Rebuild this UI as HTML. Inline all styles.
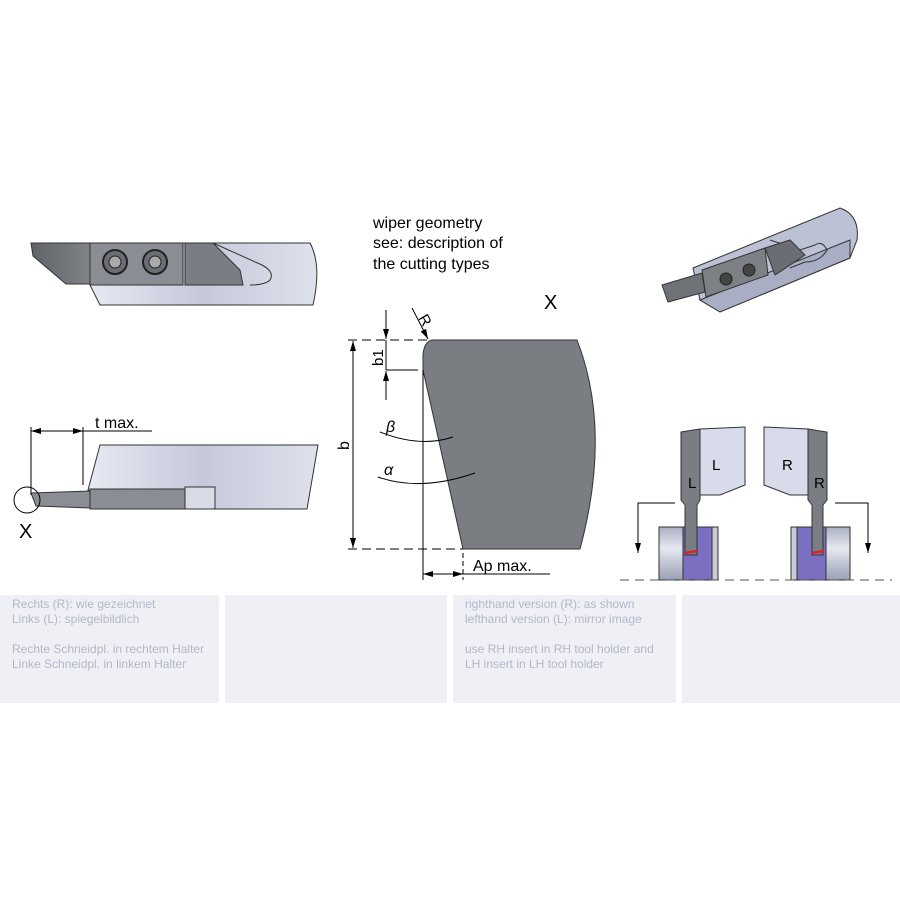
<!DOCTYPE html>
<html><head><meta charset="utf-8"><style>
body{margin:0;background:#fff;width:900px;height:900px;overflow:hidden;font-family:"Liberation Sans",sans-serif}
.p{position:absolute;top:595px;height:108px;background:#eef0f6;color:#b3b7c8;font-size:12px;line-height:15px;padding:2px 12px;box-sizing:border-box}
</style></head><body>
<svg width="900" height="900" style="position:absolute;left:0;top:0" font-family="Liberation Sans, sans-serif">
<defs>
<linearGradient id="hg" x1="0" x2="1"><stop offset="0" stop-color="#e6e9f2"/><stop offset="0.5" stop-color="#c5c9da"/><stop offset="1" stop-color="#dfe2ec"/></linearGradient>
<linearGradient id="dg" x1="0" x2="1"><stop offset="0" stop-color="#5f6266"/><stop offset="1" stop-color="#808488"/></linearGradient>
<linearGradient id="wg" x1="0" y1="0" x2="0" y2="1"><stop offset="0" stop-color="#aab0c4"/><stop offset="0.4" stop-color="#e6e8f0"/><stop offset="1" stop-color="#9aa0b6"/></linearGradient>
<marker id="a" markerWidth="10" markerHeight="6" refX="10" refY="3" orient="auto" markerUnits="userSpaceOnUse"><path d="M0,0L10,3L0,6z" fill="#000"/></marker>
</defs>
<!-- top-left tool -->
<path d="M90,243 L310,243 Q322,265 313,305 L100,305 L90,285 Z" fill="url(#hg)" stroke="#333" stroke-width="1"/>
<path d="M213,243 L262,265 Q275,272 270,280 Q265,285 250,285" fill="none" stroke="#333"/>
<path d="M31,243 L90,243 L90,284 L66,284 L33,256 Z" fill="url(#dg)" stroke="#333"/>
<rect x="90" y="243" width="93" height="42" fill="#8a8e94" stroke="#333"/>
<circle cx="115" cy="262" r="12" fill="#6a6e74" stroke="#222" stroke-width="2"/><circle cx="115" cy="262" r="6" fill="#aaa" stroke="#222"/>
<circle cx="155" cy="262" r="12" fill="#6a6e74" stroke="#222" stroke-width="2"/><circle cx="155" cy="262" r="6" fill="#aaa" stroke="#222"/>
<path d="M185,243 L213,243 L240,270 L243,285 L185,285 Z" fill="#7a7e84" stroke="#333"/>
<!-- bottom-left tool -->
<path d="M100,445 L318,445 L307,509 L185,509 L88,490 Z" fill="url(#hg)" stroke="#333"/>
<path d="M90,489 L185,489 L185,509 L90,509 Z" fill="#8a8e94" stroke="#333"/>
<path d="M31,493 L90,491 L90,508 L36,506 Z" fill="#8a8e94" stroke="#333"/>
<rect x="185" y="487" width="30" height="22" fill="#d8dbe6" stroke="#333"/>
<line x1="31" y1="427" x2="31" y2="495" stroke="#000"/><line x1="83" y1="427" x2="83" y2="485" stroke="#000"/>
<line x1="40" y1="431" x2="31" y2="431" stroke="#000" marker-end="url(#a)"/><line x1="31" y1="431" x2="83" y2="431" stroke="#000" marker-end="url(#a)"/>
<line x1="83" y1="431" x2="152" y2="431" stroke="#000"/>
<text x="95" y="428" font-size="16">t max.</text>
<circle cx="27" cy="500" r="13" fill="none" stroke="#000"/>
<text x="19" y="538" font-size="20">X</text>
<!-- center -->
<text x="373" y="228" font-size="16">wiper geometry</text>
<text x="373" y="248" font-size="16">see: description of</text>
<text x="373" y="269" font-size="16">the cutting types</text>
<text x="544" y="309" font-size="20">X</text>
<path d="M432,340 L577,340 Q612,430 580,549 L463,549 L423,370 L423,355 Q424,342 432,340 Z" fill="#7a7e83" stroke="#333"/>
<line x1="348" y1="340" x2="428" y2="340" stroke="#000" stroke-dasharray="9,5"/>
<line x1="348" y1="549" x2="463" y2="549" stroke="#000" stroke-dasharray="9,5"/>
<line x1="353" y1="440" x2="353" y2="341" stroke="#000" marker-end="url(#a)"/><line x1="353" y1="440" x2="353" y2="548" stroke="#000" marker-end="url(#a)"/>
<text transform="translate(349,450) rotate(-90)" font-size="16">b</text>
<line x1="386" y1="310" x2="386" y2="339" stroke="#000" marker-end="url(#a)"/>
<line x1="386" y1="400" x2="386" y2="371" stroke="#000" marker-end="url(#a)"/>
<line x1="386" y1="340" x2="386" y2="370" stroke="#000"/>
<line x1="386" y1="370" x2="418" y2="370" stroke="#000"/>
<text transform="translate(383,366) rotate(-90)" font-size="15">b1</text>
<line x1="412" y1="308" x2="428" y2="339" stroke="#000" marker-end="url(#a)"/>
<text transform="translate(418,318) rotate(60)" font-size="15">R</text>
<line x1="423" y1="370" x2="423" y2="580" stroke="#000"/>
<path d="M380,432 Q420,448 453,437" fill="none" stroke="#000"/>
<text x="386" y="432" font-size="16" font-style="italic">β</text>
<path d="M378,477 Q420,492 475,473" fill="none" stroke="#000"/>
<text x="384" y="475" font-size="16" font-style="italic">α</text>
<line x1="463" y1="553" x2="463" y2="580" stroke="#000" stroke-dasharray="5,3"/>
<line x1="440" y1="574" x2="423" y2="574" stroke="#000" marker-end="url(#a)"/><line x1="440" y1="574" x2="463" y2="574" stroke="#000" marker-end="url(#a)"/>
<line x1="463" y1="574" x2="550" y2="574" stroke="#000"/>
<text x="473" y="571" font-size="16">Ap max.</text>
<!-- top-right 3D tool -->
<path d="M693,268 L840,208 Q860,215 857,240 L850,258 L720,312 L700,300 Z" fill="#bcc1d4" stroke="#333"/>
<path d="M700,300 L850,240 L850,258 L720,312 Z" fill="#a9aec4" stroke="#333"/>
<path d="M770,240 L800,250 L815,245 Q822,240 827,250 Q820,262 805,262 L790,268" fill="none" stroke="#333"/>
<path d="M662,285 L702,273 L705,292 L668,302 Z" fill="#6f7378" stroke="#333"/>
<path d="M702,270 L765,248 L768,275 L706,297 Z" fill="#7d8186" stroke="#333"/>
<path d="M765,248 L790,240 L805,255 L775,275 Z" fill="#6a6e74" stroke="#333"/>
<circle cx="726" cy="279" r="6" fill="#444" stroke="#222"/><circle cx="749" cy="270" r="6" fill="#444" stroke="#222"/>
<!-- bottom-right L/R -->
<rect x="659" y="527" width="59" height="53" fill="url(#wg)" stroke="#333"/>
<rect x="683" y="527" width="29" height="53" fill="#7a6fc0" stroke="#333"/>
<rect x="712" y="527" width="6" height="53" fill="#c8cbd8" stroke="#333"/>
<path d="M681,432 L700,429 L700,500 L697,505 L697,555 L685,555 L685,505 L681,500 Z" fill="#7a7e83" stroke="#333"/>
<path d="M700,429 L745,427 L745,485 L720,495 L700,495 Z" fill="#d8dbea" stroke="#333"/>
<text x="688" y="488" font-size="15">L</text><text x="712" y="470" font-size="15">L</text>
<path d="M685,553 L697,551" stroke="#e0202a" stroke-width="2.5"/>
<rect x="791" y="527" width="59" height="53" fill="url(#wg)" stroke="#333"/>
<rect x="791" y="527" width="6" height="53" fill="#c8cbd8" stroke="#333"/>
<rect x="797" y="527" width="29" height="53" fill="#7a6fc0" stroke="#333"/>
<path d="M808,429 L827,432 L827,500 L823,505 L823,555 L812,555 L812,505 L808,500 Z" fill="#7a7e83" stroke="#333"/>
<path d="M764,427 L808,429 L808,495 L790,495 L764,485 Z" fill="#d8dbea" stroke="#333"/>
<text x="782" y="470" font-size="15">R</text><text x="814" y="488" font-size="15">R</text>
<path d="M812,553 L824,551" stroke="#e0202a" stroke-width="2.5"/>
<path d="M675,503 L638,503 L638,553" fill="none" stroke="#000" marker-end="url(#a)"/>
<path d="M835,503 L868,503 L868,553" fill="none" stroke="#000" marker-end="url(#a)"/>
<line x1="620" y1="580" x2="892" y2="580" stroke="#555" stroke-dasharray="9,6"/>
</svg>
<div class="p" style="left:0;width:219px">Rechts (R): wie gezeichnet<br>Links (L): spiegelbildlich<br><br>Rechte Schneidpl. in rechtem Halter<br>Linke Schneidpl. in linkem Halter</div>
<div class="p" style="left:225px;width:222px"></div>
<div class="p" style="left:453px;width:223px">righthand version (R): as shown<br>lefthand version (L): mirror image<br><br>use RH insert in RH tool holder and<br>LH insert in LH tool holder</div>
<div class="p" style="left:682px;width:218px"></div>
</body></html>
